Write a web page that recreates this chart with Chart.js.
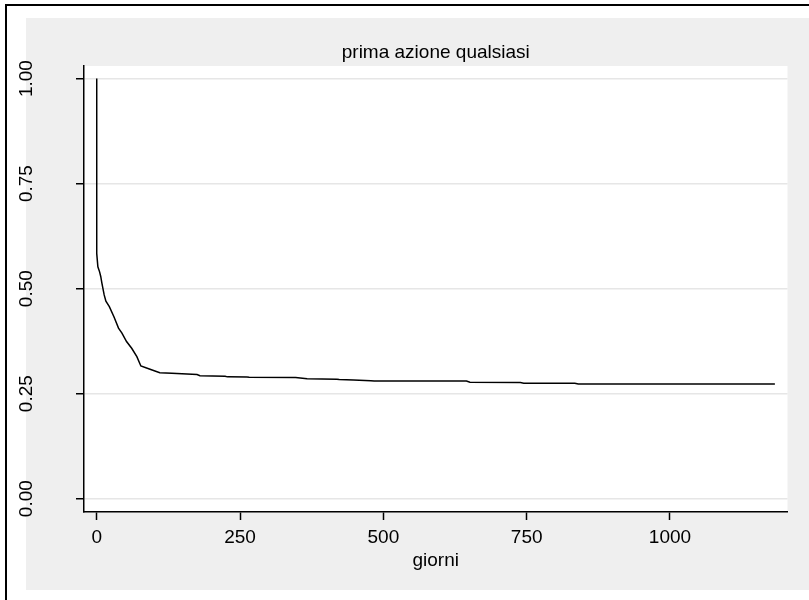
<!DOCTYPE html>
<html>
<head>
<meta charset="utf-8">
<script src="https://cdn.jsdelivr.net/npm/chart.js@4"></script>
<style>
  body { margin: 0; background: #fff; width: 809px; height: 600px; overflow: hidden; position: relative; }
  #frame { position: absolute; left: 5px; top: 4px; width: 900px; height: 700px; border: 2px solid #000; box-sizing: border-box; }
  #bg { position: absolute; left: 26px; top: 18px; width: 800px; height: 572px; background: #efefef; }
  #survChart { position: absolute; left: 0; top: 0; }
</style>
</head>
<body>
<div id="frame"></div>
<div id="bg"></div>
<canvas id="survChart" width="809" height="600"></canvas>
<script>
// Kaplan-Meier estimate
const days = [0, 0, 2, 5, 7, 9, 13, 16, 22, 30, 38, 44, 52, 61, 70, 77, 93, 110,
              131, 175, 180, 224, 228, 262, 266, 347, 367, 419, 423, 448, 478, 484,
              645, 651, 739, 745, 834, 840, 1183];
const survival = [1.000, 0.584, 0.552, 0.540, 0.529, 0.513, 0.485, 0.470, 0.457, 0.433, 0.406,
                  0.394, 0.374, 0.358, 0.338, 0.316, 0.308, 0.300,
                  0.2986, 0.2955, 0.2925, 0.2915, 0.290, 0.2895, 0.289, 0.2885, 0.2855,
                  0.2845, 0.2835, 0.2825, 0.281, 0.280,
                  0.280, 0.277, 0.2765, 0.2748, 0.2745, 0.2731, 0.2731];

const xTicks = [0, 250, 500, 750, 1000];
const yTicks = [0, 0.25, 0.5, 0.75, 1];
const yTickLabels = ['0.00', '0.25', '0.50', '0.75', '1.00'];

Chart.defaults.font.family = '"Liberation Sans", Arial, sans-serif';
Chart.defaults.font.size = 19;
Chart.defaults.color = '#000';

// white plot region + rotated y labels (stata style)
const plotBits = {
    id: 'plotBits',
    beforeDraw(chart) {
        const a = chart.chartArea;
        const ctx = chart.ctx;
        ctx.save();
        ctx.fillStyle = '#fff';
        ctx.fillRect(a.left, a.top, a.right - a.left, a.bottom - a.top);
        ctx.restore();
    },
    afterDraw(chart) {
        const ctx = chart.ctx;
        const y = chart.scales.y;
        ctx.save();
        ctx.font = '19px "Liberation Sans", Arial, sans-serif';
        ctx.fillStyle = '#000';
        ctx.textAlign = 'center';
        ctx.textBaseline = 'alphabetic';
        yTicks.forEach((v, i) => {
            ctx.save();
            ctx.translate(32, y.getPixelForValue(v));
            ctx.rotate(-Math.PI / 2);
            ctx.fillText(yTickLabels[i], 0, 0);
            ctx.restore();
        });
        ctx.restore();
    }
};

const points = days.map((d, i) => ({ x: d, y: survival[i] }));

new Chart(document.getElementById('survChart').getContext('2d'), {
    type: 'line',
    data: {
        datasets: [{
            data: points,
            borderColor: '#000',
            borderWidth: 1.5,
            pointRadius: 0,
            fill: false,
            tension: 0
        }]
    },
    options: {
        responsive: false,
        animation: false,
        layout: { padding: { left: 84, right: 21.5, top: 0, bottom: 0 } },
        plugins: {
            legend: { display: false },
            tooltip: { enabled: false },
            title: {
                display: true,
                text: 'prima azione qualsiasi',
                font: { size: 19, weight: 'normal' },
                color: '#000',
                padding: { top: 41.4, bottom: 1.8 }
            }
        },
        scales: {
            x: {
                type: 'linear',
                min: -22.2,
                max: 1205,
                afterBuildTicks: s => { s.ticks = xTicks.map(v => ({ value: v })); },
                afterFit: s => { s.height = 88; },
                ticks: { padding: 6, color: '#000', maxRotation: 0, callback: v => String(v) },
                grid: { drawOnChartArea: false, drawTicks: true, tickLength: 8, tickColor: '#000', tickWidth: 1.5 },
                border: { color: '#000', width: 1.5 },
                title: { display: true, text: 'giorni', font: { size: 19 }, color: '#000', padding: { top: 0, bottom: 28.2 } }
            },
            y: {
                type: 'linear',
                min: -0.0317,
                max: 1.030,
                afterBuildTicks: s => { s.ticks = yTicks.map(v => ({ value: v })); },
                afterFit: s => { s.width = 0; },
                ticks: { display: false },
                grid: { color: '#e6e6e6', lineWidth: 1.5, drawTicks: true, tickLength: 8, tickColor: '#000', tickWidth: 1.5 },
                border: { color: '#000', width: 1.5 }
            }
        }
    },
    plugins: [plotBits]
});
</script>
</body>
</html>
